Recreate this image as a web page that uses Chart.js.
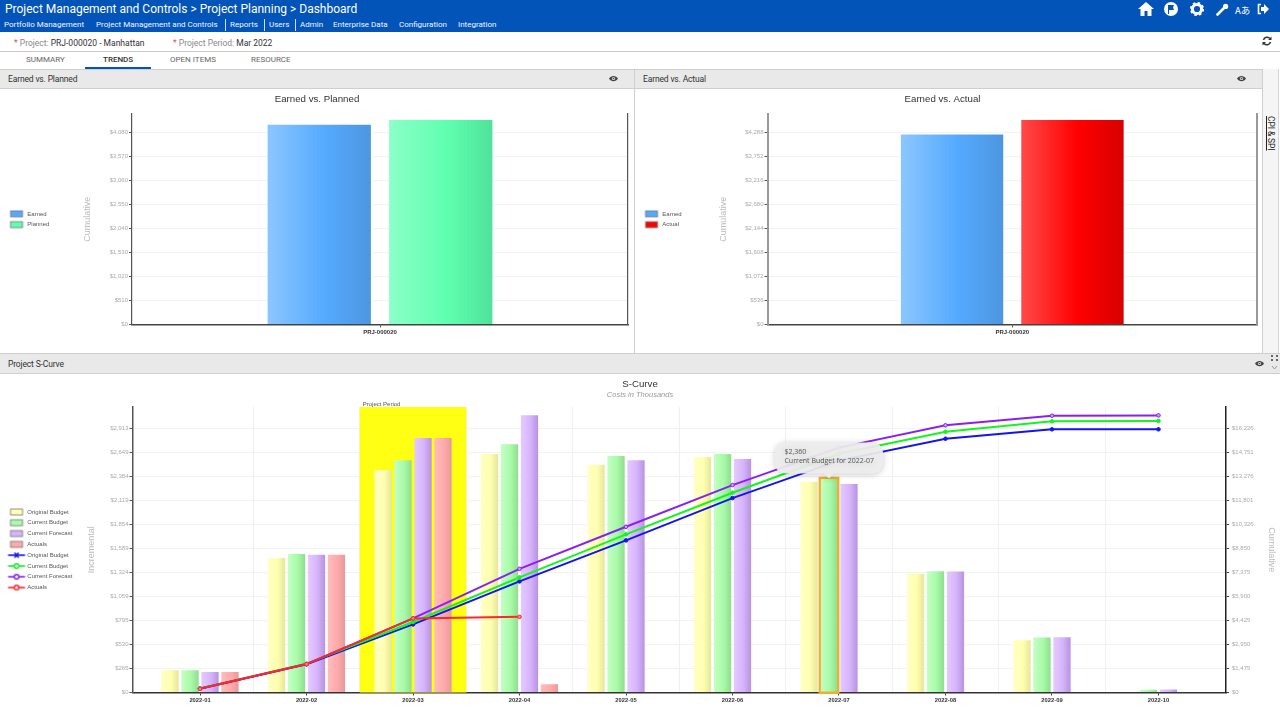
<!DOCTYPE html>
<html>
<head>
<meta charset="utf-8">
<title>Project Planning Dashboard</title>
<script src="https://cdn.jsdelivr.net/npm/chart.js@4/dist/chart.umd.min.js"></script>
<style>
  html, body { margin: 0; width: 1280px; height: 720px; overflow: hidden; background: #fff; font-family: Roboto, sans-serif; color: #333; }
  .abs { position: absolute; white-space: nowrap; }
  canvas { position: absolute; display: block; }
  #topbar { position: absolute; left: 0; top: 0; width: 1280px; height: 32px; background: #0254b8; color: #fff; }
  .nav { font-size: 8px; top: 20px; color: #f2f6ff; }
  .sep { position: absolute; top: 19px; width: 1px; height: 12px; background: #cfe0f7; }
  .tab { top: 55px; font-size: 8px; color: #666; }
  .panelhead { position: absolute; background: #e9e9e9; border-top: 1px solid #cfcfcf; border-bottom: 1px solid #cfcfcf; box-sizing: border-box; }
  .panelhead span { position: absolute; left: 8px; top: 4px; font-size: 8.5px; letter-spacing: -0.15px; color: #333; white-space: nowrap; }
  .req { color: #d9534f; }
  .lbl { color: #888; }
</style>
</head>
<body>
<div id="topbar">
  <div class="abs" style="left:5px;top:2px;font-size:12px;">Project Management and Controls &gt; Project Planning &gt; Dashboard</div>
  <div class="abs nav" style="left:4px;">Portfolio Management</div>
  <div class="abs nav" style="left:96px;">Project Management and Controls</div>
  <div class="sep" style="left:225px;"></div>
  <div class="abs nav" style="left:230px;">Reports</div>
  <div class="sep" style="left:264px;"></div>
  <div class="abs nav" style="left:269px;">Users</div>
  <div class="sep" style="left:295px;"></div>
  <div class="abs nav" style="left:300px;">Admin</div>
  <div class="abs nav" style="left:333px;">Enterprise Data</div>
  <div class="abs nav" style="left:399px;">Configuration</div>
  <div class="abs nav" style="left:458px;">Integration</div>
  <svg class="abs" style="left:1138px;top:2px;" width="16" height="14" viewBox="0 0 16 14"><path fill="#fff" d="M8 0 L16 7 L13.5 7 L13.5 14 L9.5 14 L9.5 9 L6.5 9 L6.5 14 L2.5 14 L2.5 7 L0 7 Z"/></svg>
  <svg class="abs" style="left:1164px;top:2px;" width="14" height="14" viewBox="0 0 14 14"><circle cx="7" cy="7" r="7" fill="#fff"/><path fill="#0254b8" d="M4 3 H10 L9 5.5 L10 8 H5 V12 H4 Z"/></svg>
  <svg class="abs" style="left:1190px;top:2px;" width="14" height="14" viewBox="0 0 14 14"><circle cx="7" cy="7" r="4.6" fill="none" stroke="#fff" stroke-width="3"/><circle cx="7" cy="7" r="6" fill="none" stroke="#fff" stroke-width="2.2" stroke-dasharray="2.4 2.3"/></svg>
  <svg class="abs" style="left:1216px;top:3px;" width="13" height="13" viewBox="0 0 13 13"><path fill="none" stroke="#fff" stroke-width="2.6" stroke-linecap="round" d="M1.5 11.5 L8 5"/><circle cx="9.6" cy="3.4" r="2.6" fill="#fff"/></svg>
  <div class="abs" style="left:1235px;top:3px;font-size:9.5px;font-family:'Noto Sans CJK JP';">Aあ</div>
  <svg class="abs" style="left:1257px;top:3px;" width="12" height="12" viewBox="0 0 12 12"><path fill="none" stroke="#fff" stroke-width="1.6" d="M4 1.5 H1.5 V10.5 H4"/><path fill="#fff" d="M4 4 H7 V1 L12 6 L7 11 V8 H4 Z"/></svg>
</div>

<div class="abs" style="left:14px;top:38px;font-size:8.5px;"><span class="req">*</span> <span class="lbl">Project:</span> PRJ-000020 - Manhattan</div>
<div class="abs" style="left:173px;top:38px;font-size:8.5px;"><span class="req">*</span> <span class="lbl">Project Period:</span> Mar 2022</div>
<svg class="abs" style="left:1262px;top:36px;" width="10" height="10" viewBox="0 0 10 10"><path fill="none" stroke="#333" stroke-width="1.5" d="M1.5 4 A3.8 3.8 0 0 1 8 2.5 M8.5 6 A3.8 3.8 0 0 1 2 7.5"/><path fill="#333" d="M9.5 0.5 V4 H6 Z M0.5 9.5 V6 H4 Z"/></svg>
<div class="abs" style="left:0;top:51px;width:1280px;height:1px;background:#c9c9c9;"></div>

<div class="abs tab" style="left:26px;">SUMMARY</div>
<div class="abs tab" style="left:103px;color:#333;font-weight:500;">TRENDS</div>
<div class="abs" style="left:85px;top:67px;width:66px;height:2px;background:#0254b8;"></div>
<div class="abs tab" style="left:170px;">OPEN ITEMS</div>
<div class="abs tab" style="left:251px;">RESOURCE</div>

<div class="panelhead" style="left:0;top:69px;width:634px;height:20px;"><span>Earned vs. Planned</span></div>
<div class="panelhead" style="left:635px;top:69px;width:628px;height:20px;"><span>Earned vs. Actual</span></div>
<div class="abs" style="left:634px;top:69px;width:1px;height:284px;background:#cfcfcf;"></div>
<div class="abs" style="left:1262px;top:69px;width:1px;height:284px;background:#cfcfcf;"></div>
<div class="abs" style="left:1263px;top:69px;width:15px;height:284px;background:#f5f5f5;border-right:1px solid #d4d4d4;"></div>
<div class="abs" style="left:1263px;top:113px;font-size:8.5px;letter-spacing:-0.1px;color:#222;text-decoration:underline;transform-origin:0 0;transform:translate(13px,3px) rotate(90deg);">CPI &amp; SPI</div>

<canvas id="plannedChart" style="left:0;top:90px;"></canvas>
<canvas id="actualChart" style="left:623px;top:90px;"></canvas>

<div class="panelhead" style="left:0;top:353px;width:1280px;height:21px;"><span style="top:5px;">Project S-Curve</span></div>
<svg class="abs" style="left:1270px;top:354px;" width="10" height="18" viewBox="0 0 10 18"><g fill="#666"><rect x="1" y="1" width="2" height="2"/><rect x="6" y="1" width="2" height="2"/><rect x="1" y="5" width="2" height="2"/><rect x="6" y="5" width="2" height="2"/></g><path fill="none" stroke="#999" d="M2 12 L4.5 15 L7 12"/></svg>

<canvas id="scurveChart" style="left:0;top:375px;"></canvas>

<svg width="0" height="0" style="position:absolute"><defs><g id="eye"><path fill="#444" d="M0 3.5 C2 0 7 0 9 3.5 C7 7 2 7 0 3.5 Z"/><circle cx="4.5" cy="3.5" r="1.6" fill="#e9e9e9"/><circle cx="4.5" cy="3.5" r="0.8" fill="#444"/></g></defs></svg>
<svg class="abs" style="left:609px;top:75px;" width="9" height="7"><use href="#eye"/></svg>
<svg class="abs" style="left:1237px;top:75px;" width="9" height="7"><use href="#eye"/></svg>
<svg class="abs" style="left:1255px;top:360px;" width="9" height="7"><use href="#eye"/></svg>

<script>
/* Earned vs. Planned */
const plannedCategories = ['PRJ-000020'];
const plannedEarned = [4246];
const plannedPlanned = [4346];
const plannedTicks = [0, 510, 1020, 1530, 2040, 2550, 3060, 3570, 4080];

/* Earned vs. Actual */
const actualCategories = ['PRJ-000020'];
const actualEarned = [4243];
const actualActual = [4567];
const actualTicks = [0, 536, 1072, 1608, 2144, 2680, 3216, 3752, 4288];

/* S-Curve */
const months = ['2022-01', '2022-02', '2022-03', '2022-04', '2022-05', '2022-06', '2022-07', '2022-08', '2022-09', '2022-10'];
const barOriginal = [246, 1482, 2453, 2629, 2511, 2596, 2324, 1309, 577, null];
const barCurrent = [246, 1526, 2560, 2736, 2607, 2629, 2360, 1338, 607, 29];
const barForecast = [227, 1518, 2806, 3056, 2560, 2574, 2298, 1335, 610, 33];
const barActuals = [227, 1518, 2806, 92, null, null, null, null, null, null];
const lineOriginal = [246, 1728, 4181, 6822, 9342, 11942, 14241, 15586, 16164, 16164];
const lineCurrent = [246, 1772, 4332, 7068, 9710, 12268, 14664, 16016, 16655, 16680];
const lineForecast = [227, 1745, 4551, 7597, 10178, 12740, 15039, 16410, 17000, 17020];
const lineActuals = [227, 1745, 4551, 4646];
const incrementalTicks = [0, 265, 530, 795, 1059, 1324, 1589, 1854, 2119, 2384, 2649, 2913];
const cumulativeTicks = [0, 1475, 2950, 4425, 5900, 7375, 8850, 10326, 11801, 13276, 14751, 16226];
const projectPeriodIndex = 2;

Chart.defaults.font.family = '"Liberation Sans", sans-serif';
Chart.defaults.animation = false;

const money = (v) => '$' + Number(v).toLocaleString('en-US');
const setTicks = (values) => (scale) => { scale.ticks = values.map((value) => ({ value })); };

/* Horizontal gradient across one bar, worked out from where the scale puts its group. */
function barFill(stops, slot, slots, catPct, barPct) {
  return (ctx) => {
    if (ctx.type !== 'data') return stops[1];
    const sx = ctx.chart.scales.x;
    const unit = slots === 2 ? sx.width : sx.getPixelForValue(1) - sx.getPixelForValue(0);
    const center = sx.getPixelForValue(ctx.dataIndex);
    const slotW = unit * catPct / slots;
    const start = center + (slot - slots / 2) * slotW + slotW * (1 - barPct) / 2;
    const g = ctx.chart.ctx.createLinearGradient(start, 0, start + slotW * barPct, 0);
    g.addColorStop(0, stops[0]);
    g.addColorStop(0.55, stops[1]);
    g.addColorStop(1, stops[2]);
    return g;
  };
}

/* Legend pictures: a bordered swatch or a line with its marker. dx widens the box for the shifted canvas. */
function swatchIcon(color, dx = 0) {
  const c = document.createElement('canvas');
  c.width = 26 + dx; c.height = 10;
  const g = c.getContext('2d');
  g.fillStyle = color;
  g.fillRect(9 + dx, 2, 12, 6);
  g.strokeStyle = '#777';
  g.lineWidth = 0.8;
  g.strokeRect(9 + dx, 2, 12, 6);
  return c;
}
function lineIcon(color, solid) {
  const c = document.createElement('canvas');
  c.width = 26; c.height = 10;
  const g = c.getContext('2d');
  g.strokeStyle = color;
  g.lineWidth = 1.6;
  g.beginPath(); g.moveTo(6.5, 5); g.lineTo(23.5, 5); g.stroke();
  if (solid) {
    g.lineWidth = 1.5;
    g.beginPath(); g.moveTo(13, 2.5); g.lineTo(17, 7.5); g.moveTo(17, 2.5); g.lineTo(13, 7.5); g.stroke();
    return c;
  }
  g.fillStyle = '#fff';
  g.lineWidth = 1.5;
  g.beginPath(); g.arc(15, 5, 2.3, 0, Math.PI * 2); g.fill(); g.stroke();
  return c;
}

function legendOptions(items, boxWidth = 19.5) {
  return {
    position: 'left',
    fullSize: false,
    labels: {
      font: { size: 6 },
      color: '#555',
      padding: 4.8,
      usePointStyle: true,
      pointStyleWidth: boxWidth,
      generateLabels: () => items.map(([text, icon]) => ({ text, pointStyle: icon, fontColor: '#555', lineWidth: 0, hidden: false })),
    },
  };
}

function leftAxisFit(target) {
  return (scale) => { scale.width = target - (scale.chart.legend ? scale.chart.legend.width : 0); };
}

/* Both top panels are one category with two gradient bars and a framed plot. */
function renderPanel(id, width, opts) {
  const el = document.getElementById(id);
  el.width = width; el.height = 262;
  const catPct = opts.catPct, barPct = 0.85;
  const dx = opts.legendShift;
  return new Chart(el, {
    type: 'bar',
    data: {
      labels: opts.categories,
      datasets: [
        { label: 'Earned', data: opts.first, backgroundColor: barFill(opts.firstStops, 0, 2, catPct, barPct) },
        { label: opts.secondLabel, data: opts.second, backgroundColor: barFill(opts.secondStops, 1, 2, catPct, barPct) },
      ],
    },
    options: {
      responsive: false,
      events: [],
      layout: { autoPadding: false },
      datasets: { bar: { categoryPercentage: catPct, barPercentage: barPct } },
      plugins: {
        title: { display: true, text: opts.title, color: '#333', font: { size: 9.7, weight: 'normal' }, padding: { top: 4, bottom: 8.4 } },
        legend: legendOptions([['Earned', swatchIcon(opts.firstStops[1], dx)], [opts.secondLabel, swatchIcon(opts.secondStops[1], dx)]], 19.5 + dx),
        tooltip: { enabled: false },
      },
      scales: {
        x: {
          offset: true,
          grid: { display: true, offset: false, drawOnChartArea: false, tickLength: 3, tickColor: '#555' },
          border: { color: '#444', width: 1.5 },
          ticks: { color: '#333', padding: 1, font: { size: 6, weight: 'bold' } },
          afterFit: (s) => { s.height = 27.5; },
        },
        y: {
          min: 0,
          max: opts.yMax,
          afterBuildTicks: setTicks(opts.ticks),
          afterFit: leftAxisFit(opts.plotLeft),
          grid: { color: '#f3f3f3', tickColor: '#555', tickLength: 3 },
          border: { color: opts.frameColor, width: opts.frameWidth },
          ticks: { color: '#aaa', padding: 1, font: { size: 6 }, callback: money },
          title: { display: true, text: 'Cumulative', color: '#bbb', font: { size: 9 }, padding: { top: opts.titlePad, bottom: 0 } },
        },
        frame: {
          position: 'right',
          min: 0,
          max: 1,
          grid: { display: false, drawTicks: false },
          ticks: { display: false },
          border: { color: opts.frameColor, width: opts.frameWidth },
          afterFit: (s) => { s.width = opts.plotRight; },
        },
      },
    },
  });
}

/* Yellow reporting-period band behind the bars, with its small label. */
const periodBand = {
  id: 'periodBand',
  beforeDatasetsDraw(chart) {
    const { ctx, chartArea, scales } = chart;
    const x0 = scales.x.getPixelForValue(projectPeriodIndex - 0.5);
    const x1 = scales.x.getPixelForValue(projectPeriodIndex + 0.5);
    ctx.save();
    ctx.fillStyle = '#ffff14';
    ctx.fillRect(x0, chartArea.top, x1 - x0, chartArea.height);
    ctx.fillStyle = '#555';
    ctx.font = '6px "Liberation Sans"';
    ctx.textBaseline = 'bottom';
    ctx.fillText('Project Period', x0 + 3, chartArea.top);
    ctx.restore();
  },
};

/* Chart.js tooltips have no shadow of their own. */
const tooltipShadow = {
  id: 'tooltipShadow',
  beforeTooltipDraw(chart) {
    chart.ctx.save();
    chart.ctx.shadowColor = 'rgba(0,0,0,0.22)';
    chart.ctx.shadowBlur = 6;
    chart.ctx.shadowOffsetY = 1;
  },
  afterTooltipDraw(chart) {
    chart.ctx.restore();
  },
};

function renderSCurve() {
  const el = document.getElementById('scurveChart');
  el.width = 1280; el.height = 345;
  const catPct = 0.75, barPct = 0.865;
  const yellow = ['#ffffc4', '#ffffb0', '#e6e69c'];
  const green = ['#c4ffc4', '#a8fba8', '#90dd90'];
  const purple = ['#e4caff', '#d6b4fc', '#b892e0'];
  const red = ['#ffbcbc', '#ffaaaa', '#e69a9a'];
  const blueLine = '#1414ee', greenLine = '#14f51e', purpleLine = '#8a1ff5', redLine = '#ff2626';
  const bar = (label, data, stops, slot) => ({
    label, data, yAxisID: 'y', order: 2, clip: 8,
    backgroundColor: barFill(stops, slot, 4, catPct, barPct),
    borderWidth: 0,
    borderSkipped: false,
    hoverBorderColor: '#f2ad2e',
    hoverBorderWidth: 2.5,
    inflateAmount: (c) => (c.active ? 2 : 0),
  });
  const line = (label, data, color, fill, order) => ({
    type: 'line', label, data, yAxisID: 'y1', order,
    borderColor: color, borderWidth: 2, tension: 0,
    pointRadius: 1.8, pointBorderWidth: 1, pointBorderColor: color, pointBackgroundColor: fill,
  });
  const chart = new Chart(el, {
    type: 'bar',
    data: {
      labels: months.map((_, i) => i),
      datasets: [
        bar('Original Budget', barOriginal, yellow, 0),
        bar('Current Budget', barCurrent, green, 1),
        bar('Current Forecast', barForecast, purple, 2),
        bar('Actuals', barActuals, red, 3),
        line('Original Budget', lineOriginal, blueLine, blueLine, 1),
        line('Current Budget', lineCurrent, greenLine, greenLine, 0.8),
        line('Current Forecast', lineForecast, purpleLine, '#c9a0ff', 0.6),
        line('Actuals', lineActuals, redLine, '#ff8a8a', 0.4),
      ],
    },
    plugins: [periodBand, tooltipShadow],
    options: {
      responsive: false,
      events: [],
      layout: { autoPadding: false },
      datasets: { bar: { categoryPercentage: catPct, barPercentage: barPct } },
      plugins: {
        title: { display: true, text: 'S-Curve', color: '#333', font: { size: 9.7, weight: 'normal' }, padding: { top: 4, bottom: 0 } },
        subtitle: { display: true, text: 'Costs in Thousands', color: '#999', font: { size: 7.5, style: 'italic' }, padding: { top: 0, bottom: 7.36 } },
        legend: legendOptions([
          ['Original Budget', swatchIcon(yellow[1])],
          ['Current Budget', swatchIcon(green[1])],
          ['Current Forecast', swatchIcon(purple[1])],
          ['Actuals', swatchIcon(red[1])],
          ['Original Budget', lineIcon(blueLine, true)],
          ['Current Budget', lineIcon(greenLine, false)],
          ['Current Forecast', lineIcon(purpleLine, false)],
          ['Actuals', lineIcon(redLine, false)],
        ]),
        tooltip: {
          backgroundColor: 'rgba(238,238,238,0.93)',
          titleColor: '#555',
          bodyColor: '#555',
          titleFont: { family: '"Open Sans"', size: 7, weight: 'normal' },
          bodyFont: { family: '"Open Sans"', size: 7 },
          titleMarginBottom: 0.6,
          displayColors: false,
          cornerRadius: 12,
          padding: { top: 5.8, bottom: 7.8, left: 9.5, right: 9 },
          caretSize: 5,
          caretPadding: 0,
          xAlign: 'center',
          yAlign: 'bottom',
          callbacks: {
            title: (items) => money(items[0].parsed.y),
            label: (c) => c.dataset.label + ' for ' + months[c.dataIndex],
          },
        },
      },
      scales: {
        x: {
          type: 'linear',
          offset: false,
          min: -0.634,
          max: months.length - 1 + 0.634,
          afterBuildTicks: setTicks(months.map((_, i) => i)),
          grid: { offset: false, drawOnChartArea: false, tickLength: 3, tickColor: '#444' },
          border: { color: '#333', width: 1.5 },
          ticks: { color: '#333', padding: 1, autoSkip: false, maxRotation: 0, font: { size: 5.8, weight: 'bold' }, callback: (v) => months[v] },
          afterFit: (s) => { s.height = 27.5; },
        },
        /* second x axis only carries the vertical grid lines between the months */
        xGrid: {
          type: 'linear',
          position: 'bottom',
          offset: false,
          min: -0.634,
          max: months.length - 1 + 0.634,
          afterBuildTicks: setTicks(months.slice(1).map((_, i) => i + 0.5)),
          grid: { offset: false, color: '#f0f0f0', drawTicks: false },
          border: { display: false },
          ticks: { display: false },
          afterFit: (s) => { s.height = 0; },
        },
        y: {
          min: 0,
          max: 3148,
          afterBuildTicks: setTicks(incrementalTicks),
          afterFit: leftAxisFit(132.5),
          grid: { color: '#f3f3f3', tickColor: '#555', tickLength: 3 },
          border: { color: '#555', width: 1.5 },
          ticks: { color: '#aaa', padding: 1, font: { size: 6 }, callback: money },
          title: { display: true, text: 'Incremental', color: '#bbb', font: { size: 9 }, padding: { top: 4, bottom: 0 } },
        },
        y1: {
          position: 'right',
          min: 0,
          max: 17535,
          afterBuildTicks: setTicks(cumulativeTicks),
          afterFit: (s) => { s.width = 54; },
          grid: { drawOnChartArea: false, tickColor: '#444', tickLength: 3 },
          border: { color: '#222', width: 1.5 },
          ticks: { color: '#aaa', padding: 3, font: { size: 6 }, callback: money },
          title: { display: true, text: 'Cumulative', color: '#bbb', font: { size: 9 }, padding: { top: 3.5, bottom: 0 } },
        },
      },
    },
  });
  /* the reference was photographed with the pointer on the 2022-07 Current Budget bar */
  const active = [{ datasetIndex: 1, index: months.indexOf('2022-07') }];
  chart.setActiveElements(active);
  chart.tooltip.setActiveElements(active, { x: 0, y: 0 });
  chart.update();
}

renderPanel('plannedChart', 634, {
  title: 'Earned vs. Planned',
  categories: plannedCategories,
  first: plannedEarned,
  second: plannedPlanned,
  secondLabel: 'Planned',
  firstStops: ['#8cc6ff', '#55aaff', '#4d96e0'],
  secondStops: ['#8cffc8', '#60ffb0', '#4fe39a'],
  yMax: 4473,
  ticks: plannedTicks,
  plotLeft: 132,
  plotRight: 6,
  catPct: 0.49,
  frameColor: '#555',
  frameWidth: 1.2,
  titlePad: 23,
  legendShift: 0,
});
/* canvas starts 12px left of the panel so the title centres where the reference has it */
renderPanel('actualChart', 639, {
  title: 'Earned vs. Actual',
  categories: actualCategories,
  first: actualEarned,
  second: actualActual,
  secondLabel: 'Actual',
  firstStops: ['#8cc6ff', '#55aaff', '#4d96e0'],
  secondStops: ['#ff4a4a', '#ff0000', '#d80000'],
  yMax: 4701,
  ticks: actualTicks,
  plotLeft: 144.5,
  plotRight: 5,
  catPct: 0.492,
  frameColor: '#999',
  frameWidth: 2,
  titlePad: 26.6,
  legendShift: 12,
});
renderSCurve();
</script>
</body>
</html>
